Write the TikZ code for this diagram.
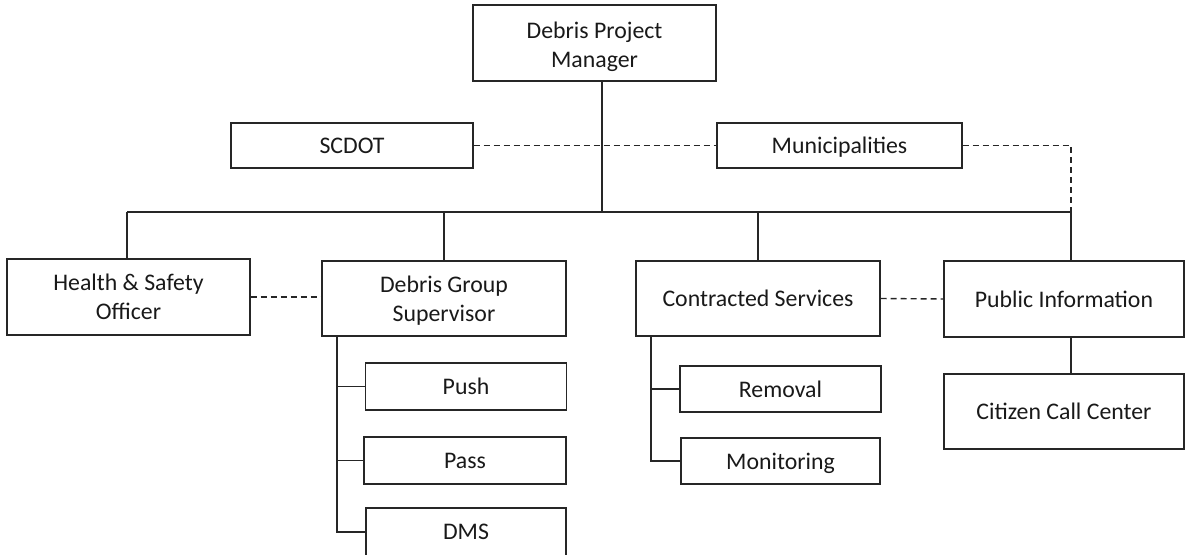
\documentclass[tikz,border=0pt]{standalone}
\usepackage{fontspec}
\setmainfont{Carlito}
\begin{document}
\begin{tikzpicture}[x=1pt,y=-1pt,
  line/.style={draw=black!85,line width=1.4pt},
  txt/.style={inner sep=0pt,align=center,text=black!90,
    font=\fontsize{23.8}{29}\selectfont},
  box/.style={line,rectangle,txt},
  one/.style={box,text depth=0pt},
  link/.style={line,dash pattern=on 6pt off 4pt}]
\clip (0,0) rectangle (1185,554);
% top level
\node[box,minimum width=243,minimum height=76] (mgr) at (594.5,43) {};
\node[txt] (mgrText) at ([yshift=-3.5pt]mgr.center) {Debris Project\\Manager};
\node[one,minimum width=242,minimum height=45] (scdot) at (352,145.5) {SCDOT};
\node[one,minimum width=245,minimum height=45] (muni) at (839.5,145.5) {Municipalities};
% second level
\node[box,minimum width=243,minimum height=76] (hso) at (128.5,297) {Health \& Safety\\Officer};
\node[box,minimum width=244,minimum height=75] (dgs) at (444,298.5) {};
\node[txt] (dgsText) at ([yshift=-2.5pt]dgs.center) {Debris Group\\Supervisor};
\node[one,minimum width=244,minimum height=75] (con) at (758,298.5) {Contracted Services};
\node[one,minimum width=240,minimum height=76] (pub) at (1064,299) {Public Information};
\node[one,minimum width=240,minimum height=75] (ccc) at (1064,411.5) {Citizen Call Center};
% debris group units
\node[one,minimum width=201,minimum height=47] (push) at (466,386.5) {Push};
\node[one,minimum width=202,minimum height=47] (pass) at (465,460.5) {Pass};
\node[one,minimum width=200,minimum height=48] (dms) at (466,532) {DMS};
% contracted units
\node[one,minimum width=201,minimum height=46] (rem) at (780.5,389) {Removal};
\node[one,minimum width=199,minimum height=46] (mon) at (780.5,461) {Monitoring};
% bus coordinates
\coordinate (bus) at (602,212);
\coordinate (busL) at (127,212);
\coordinate (busR) at (1071,212);
\coordinate (dgsT) at (337,0);
\coordinate (conT) at (651,0);
% solid reporting lines
\draw[line] (mgr.south -| bus) -- (bus);
\draw[line] (busL) -- (busR);
\draw[line] (busL) -- (busL |- hso.north);
\draw[line] (dgs.north |- bus) -- (dgs.north);
\draw[line] (con.north |- bus) -- (con.north);
\draw[line] (busR) -- (busR |- pub.north);
\draw[line] (busR |- pub.south) -- (busR |- ccc.north);
\draw[line] (dgsT |- dgs.south) |- (push.west);
\draw[line] (dgsT |- dgs.south) |- (pass.west);
\draw[line] (dgsT |- dgs.south) |- (dms.west);
\draw[line] (conT |- con.south) |- (rem.west);
\draw[line] (conT |- con.south) |- (mon.west);
% dashed coordination lines
\draw[link] (scdot.east) -- (muni.west);
\draw[link] (muni.east) -| (busR);
\draw[link] (hso.east) -- (hso.east -| dgs.west);
\draw[link] (con.east) -- (pub.west);
\end{tikzpicture}
\end{document}
